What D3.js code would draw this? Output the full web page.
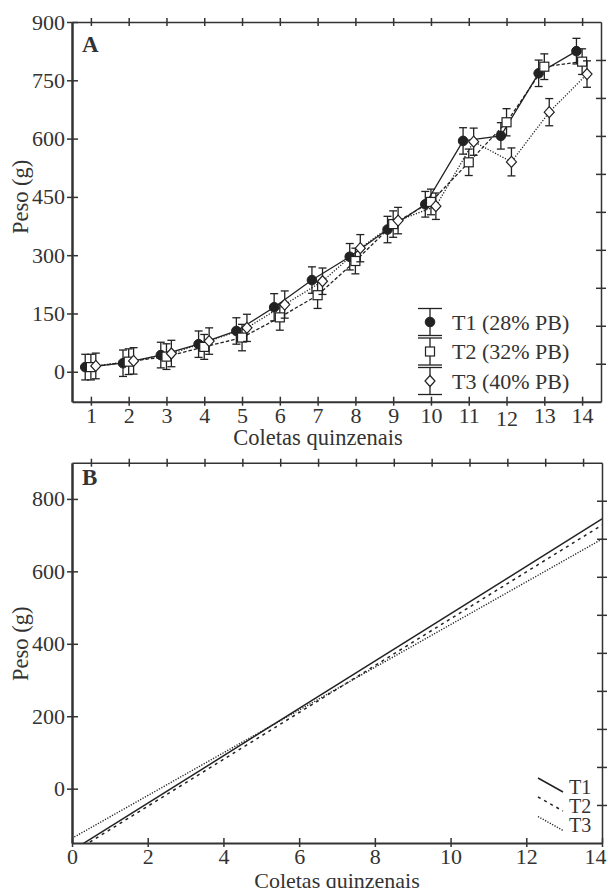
<!DOCTYPE html>
<html>
<head>
<meta charset="utf-8">
<script src="https://cdn.jsdelivr.net/npm/d3@7"></script>
<style>
  body { margin: 0; background: #fff; }
  text { font-family: "Liberation Serif", serif; fill: #333; }
</style>
</head>
<body>
<div id="chart"></div>
<script>
// data
var coletas = [1, 2, 3, 4, 5, 6, 7, 8, 9, 10, 11, 12, 13, 14];
var t1 = [12, 22, 43, 71, 105, 166, 236, 296, 366, 431, 594, 607, 768, 825];
var t2 = [12, 26, 39, 64, 88, 140, 197, 285, 380, 437, 539, 642, 785, 798];
var t3 = [15, 28, 47, 79, 113, 173, 233, 318, 389, 426, 592, 540, 668, 766];
var e1 = [33, 34, 33, 34, 34, 35, 34, 34, 34, 33, 34, 34, 34, 33];
var e2 = [33, 33, 33, 32, 34, 33, 34, 33, 34, 33, 34, 35, 33, 33];
var e3 = [33, 34, 34, 34, 35, 35, 34, 35, 34, 34, 35, 36, 35, 34];
var legendA = ["T1 (28% PB)", "T2 (32% PB)", "T3 (40% PB)"];
var yTicksA = [0, 150, 300, 450, 600, 750, 900];

var fitNames = ["T1", "T2", "T3"];
var fitIntercept = [-171, -178, -137];
var fitSlope = [65.4, 64.7, 59.0];
var xTicksB = [0, 2, 4, 6, 8, 10, 12, 14];
var yTicksB = [0, 200, 400, 600, 800];
var boxTicks = d3.range(1, 10);

var axisColor = "#333";
var lineColor = "#222";

var svg = d3.select("#chart").append("svg")
  .attr("width", 608)
  .attr("height", 888);

function frame(g, x, y, xTop, yRight, xTicks, yTicks) {
  var x0 = x.range()[0], x1 = x.range()[1];
  var yb = y.range()[0], yt = y.range()[1];

  var bottom = g.append("g")
    .attr("transform", `translate(0, ${yb})`)
    .call(d3.axisBottom(x).tickValues(xTicks).tickSize(4).tickSizeOuter(0));
  bottom.selectAll(".tick line").attr("y1", -5);
  bottom.selectAll(".tick text").attr("y", 21).attr("dy", 0).style("font-size", "22px");
  bottom.select(".domain").attr("stroke-width", 2);

  var top = g.append("g")
    .attr("transform", `translate(0, ${yt})`)
    .call(d3.axisTop(xTop).tickValues(coletas).tickSize(4).tickSizeOuter(0).tickFormat(""));
  top.selectAll(".tick line").attr("y1", 4);
  top.select(".domain").attr("stroke-width", 1.5);

  var right = g.append("g")
    .attr("transform", `translate(${x1}, 0)`)
    .call(d3.axisRight(yRight).tickValues(boxTicks).tickSize(5).tickSizeOuter(0).tickFormat(""));
  right.selectAll(".tick line").attr("x1", -5);
  right.select(".domain").attr("stroke-width", 1.5);

  var left = g.append("g")
    .attr("transform", `translate(${x0}, 0)`)
    .call(d3.axisLeft(y).tickValues(yTicks).tickSize(5).tickPadding(2).tickSizeOuter(0));
  left.selectAll(".tick line").attr("x1", 6);
  left.selectAll(".tick text").style("font-size", "22px");
  left.select(".domain").attr("stroke-width", 2.5);

  g.selectAll(".domain, .tick line").attr("stroke", axisColor);
  g.selectAll(".tick line").attr("stroke-width", 1.5);
  g.selectAll(".tick text").attr("fill", axisColor).style("font-family", "Liberation Serif, serif");
  return bottom;
}

// ---------- panel A ----------
var xA = d3.scaleLinear().domain([0.5, 14.5]).range([72, 601]);
var yA = d3.scaleLinear().domain([-77, 900]).range([401.7, 22]);
var yAR = d3.scaleLinear().domain([0, 10]).range([401.7, 22]);

var gA = svg.append("g");

var seriesA = [
  { vals: t1, err: e1, off: -0.15, dash: null, shape: "circle" },
  { vals: t2, err: e2, off: 0, dash: "3.5,2", shape: "square" },
  { vals: t3, err: e3, off: 0.13, dash: "1.2,1.6", shape: "diamond" }
];

seriesA.forEach(function(s) {
  var line = d3.line()
    .x((d, i) => xA(coletas[i] + s.off))
    .y(d => yA(d));
  gA.append("path")
    .datum(s.vals)
    .attr("d", line)
    .attr("fill", "none")
    .attr("stroke", lineColor)
    .attr("stroke-width", 1.3)
    .attr("stroke-dasharray", s.dash);
});

function drawMarker(sel, shape) {
  if (shape === "circle") {
    sel.append("circle").attr("r", 4.8).attr("fill", lineColor).attr("stroke", lineColor);
  } else if (shape === "square") {
    sel.append("rect").attr("x", -4.5).attr("y", -4.5).attr("width", 9).attr("height", 9)
      .attr("fill", "#fff").attr("stroke", lineColor).attr("stroke-width", 1.2);
  } else {
    sel.append("path").attr("d", "M0,-5.5L5,0L0,5.5L-5,0Z")
      .attr("fill", "#fff").attr("stroke", lineColor).attr("stroke-width", 1.2);
  }
}

seriesA.forEach(function(s) {
  var pts = gA.append("g").selectAll("g")
    .data(s.vals)
    .enter()
    .append("g")
    .attr("transform", (d, i) => `translate(${xA(coletas[i] + s.off)}, 0)`);

  pts.append("line")
    .attr("y1", (d, i) => yA(d - s.err[i]))
    .attr("y2", (d, i) => yA(d + s.err[i]))
    .attr("stroke", lineColor).attr("stroke-width", 1.3);
  pts.append("line")
    .attr("x1", -4).attr("x2", 4)
    .attr("y1", (d, i) => yA(d + s.err[i]))
    .attr("y2", (d, i) => yA(d + s.err[i]))
    .attr("stroke", lineColor).attr("stroke-width", 1.3);
  pts.append("line")
    .attr("x1", -4).attr("x2", 4)
    .attr("y1", (d, i) => yA(d - s.err[i]))
    .attr("y2", (d, i) => yA(d - s.err[i]))
    .attr("stroke", lineColor).attr("stroke-width", 1.3);

  var mk = pts.append("g").attr("transform", d => `translate(0, ${yA(d)})`);
  drawMarker(mk, s.shape);
});

var bottomA = frame(gA, xA, yA, xA, yAR, coletas, yTicksA);
// the "12" label sits a little lower in the original
bottomA.selectAll(".tick text").filter(d => d === 12).attr("y", 24);

// legend A
var legA = gA.append("g").attr("transform", "translate(430, 322)");
seriesA.forEach(function(s, i) {
  var row = legA.append("g").attr("transform", `translate(0, ${i * 29.5})`);
  row.append("line").attr("y1", -13.5).attr("y2", 13.5).attr("stroke", lineColor).attr("stroke-width", 1.3);
  row.append("line").attr("x1", -12).attr("x2", 12).attr("y1", -13.5).attr("y2", -13.5).attr("stroke", lineColor).attr("stroke-width", 1.3);
  row.append("line").attr("x1", -12).attr("x2", 12).attr("y1", 13.5).attr("y2", 13.5).attr("stroke", lineColor).attr("stroke-width", 1.3);
  drawMarker(row, s.shape);
  row.append("text")
    .attr("x", 22).attr("dy", "0.35em")
    .style("font-size", "22px")
    .text(legendA[i]);
});

gA.append("text")
  .attr("x", 82).attr("y", 52)
  .style("font-size", "23px").style("font-weight", "bold").attr("fill", "#222")
  .text("A");

gA.append("text")
  .attr("transform", `translate(27.5, ${(yA(0) + yA(900)) / 2}) rotate(-90)`)
  .attr("text-anchor", "middle")
  .style("font-size", "22.5px")
  .text("Peso (g)");

gA.append("text")
  .attr("x", 318).attr("y", 445)
  .attr("text-anchor", "middle")
  .style("font-size", "22.5px")
  .text("Coletas quinzenais");

// ---------- panel B ----------
var xB = d3.scaleLinear().domain([0, 14]).range([72, 602]);
var xBTop = d3.scaleLinear().domain([0.5, 14.5]).range([72, 602]);
var yB = d3.scaleLinear().domain([-150, 900]).range([843, 462.7]);
var yBR = d3.scaleLinear().domain([0, 10]).range([843, 462.7]);

var gB = svg.append("g");

gB.append("clipPath").attr("id", "clipB")
  .append("rect")
  .attr("x", xB.range()[0]).attr("y", yB.range()[1])
  .attr("width", xB.range()[1] - xB.range()[0])
  .attr("height", yB.range()[0] - yB.range()[1]);

var fitDash = [null, "3,4", "1.2,1.5"];
var fitWidth = [1.5, 1.5, 1.4];

fitNames.forEach(function(name, k) {
  var line = d3.line()
    .x(d => xB(d))
    .y(d => yB(fitIntercept[k] + fitSlope[k] * d));
  gB.append("path")
    .datum(xB.domain())
    .attr("d", line)
    .attr("clip-path", "url(#clipB)")
    .attr("fill", "none")
    .attr("stroke", lineColor)
    .attr("stroke-width", fitWidth[k])
    .attr("stroke-dasharray", fitDash[k]);
});

var bottomB = frame(gB, xB, yB, xBTop, yBR, xTicksB, yTicksB);
bottomB.selectAll(".tick text").filter(d => d === 14).attr("x", -7);

// legend B
var legB = gB.append("g").attr("transform", "translate(538, 778)");
var legBRow = [0, 19, 38.5];
fitNames.forEach(function(name, k) {
  var row = legB.append("g").attr("transform", `translate(0, ${legBRow[k]})`);
  row.append("line")
    .attr("x1", 0).attr("y1", 0).attr("x2", 25).attr("y2", 14)
    .attr("stroke", lineColor)
    .attr("stroke-width", fitWidth[k])
    .attr("stroke-dasharray", fitDash[k]);
  row.append("text")
    .attr("x", 31).attr("y", 15.5)
    .style("font-size", "20px")
    .text(name);
});

gB.append("text")
  .attr("x", 82).attr("y", 485)
  .style("font-size", "23px").style("font-weight", "bold").attr("fill", "#222")
  .text("B");

gB.append("text")
  .attr("transform", `translate(27.5, ${(yB(0) + yB(800)) / 2}) rotate(-90)`)
  .attr("text-anchor", "middle")
  .style("font-size", "22.5px")
  .text("Peso (g)");

gB.append("text")
  .attr("x", (xB.range()[0] + xB.range()[1]) / 2).attr("y", 888)
  .attr("text-anchor", "middle")
  .style("font-size", "22px")
  .text("Coletas quinzenais");
</script>
</body>
</html>
